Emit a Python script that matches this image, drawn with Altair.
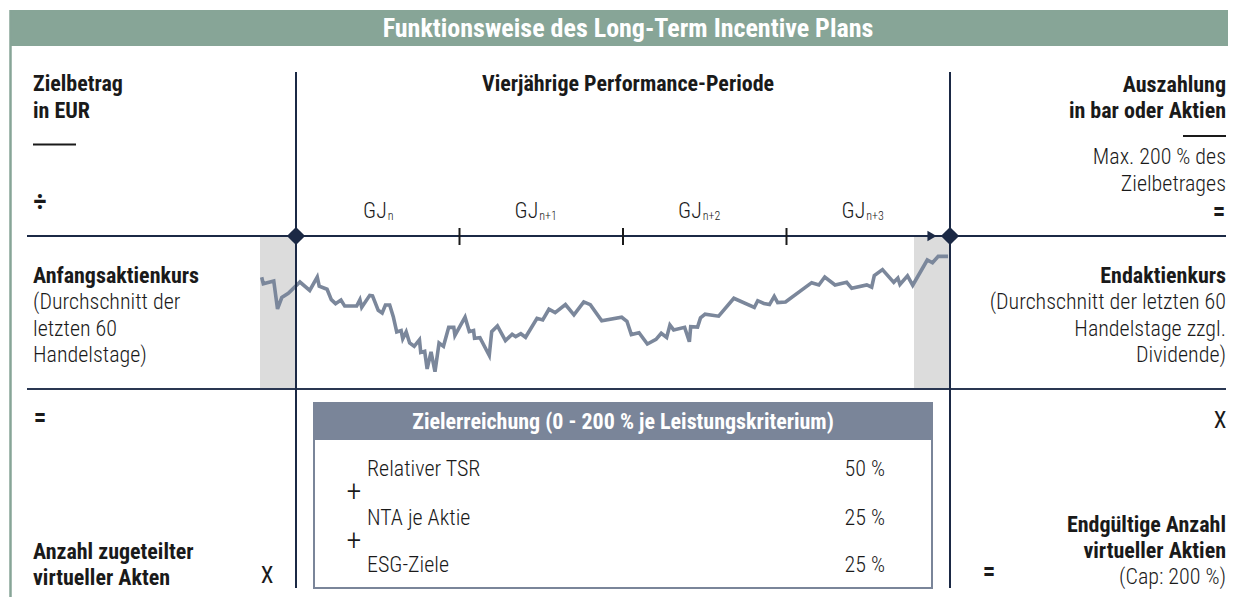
import altair as alt
import pandas as pd

# ---------------- data ----------------
# Zeit in Jahren relativ zum Beginn der Performance-Periode, Kurs als Index
jahre = [-0.210, -0.200, -0.136, -0.113, -0.087, -0.047, 0.024, 0.084, 0.130, 0.142,
         0.190, 0.216, 0.242, 0.275, 0.298, 0.371, 0.391, 0.402, 0.451, 0.468,
         0.503, 0.527, 0.547, 0.573, 0.595, 0.616, 0.643, 0.653, 0.674, 0.695,
         0.723, 0.755, 0.763, 0.787, 0.802, 0.826, 0.850, 0.875, 0.902, 0.934,
         0.965, 0.972, 1.034, 1.060, 1.086, 1.092, 1.125, 1.182, 1.197, 1.232,
         1.281, 1.322, 1.344, 1.375, 1.404, 1.474, 1.509, 1.547, 1.585, 1.648,
         1.700, 1.760, 1.800, 1.870, 1.992, 2.024, 2.051, 2.098, 2.149, 2.202,
         2.234, 2.267, 2.287, 2.310, 2.377, 2.406, 2.414, 2.456, 2.474, 2.502,
         2.585, 2.678, 2.803, 2.824, 2.862, 2.896, 2.925, 2.946, 2.994, 3.154,
         3.198, 3.234, 3.297, 3.368, 3.399, 3.491, 3.521, 3.537, 3.587, 3.656,
         3.681, 3.694, 3.740, 3.772, 3.861, 3.893, 3.928, 3.988]
kurs = [73.0, 68.8, 70.6, 52.3, 59.8, 62.5, 69.9, 64.4, 73.2, 67.2,
        65.2, 58.4, 55.8, 58.2, 54.2, 54.2, 58.4, 53.4, 61.2, 60.9,
        51.4, 49.7, 54.9, 54.9, 47.3, 37.3, 38.2, 32.8, 37.3, 30.1,
        27.9, 32.2, 23.9, 24.6, 13.1, 24.2, 11.3, 30.1, 27.9, 40.3,
        40.3, 35.0, 46.9, 37.5, 38.2, 33.1, 33.5, 21.9, 37.5, 41.2,
        31.6, 35.8, 34.2, 36.1, 33.8, 46.2, 45.1, 52.1, 49.9, 55.2,
        48.4, 56.9, 55.1, 44.6, 46.9, 44.3, 35.6, 36.8, 29.4, 32.4,
        36.4, 33.7, 41.8, 38.6, 40.3, 30.9, 40.7, 40.5, 46.5, 48.9,
        47.6, 59.3, 53.3, 57.7, 55.9, 55.2, 60.5, 56.5, 56.9, 69.5,
        68.0, 73.2, 68.0, 69.7, 65.8, 68.0, 66.5, 74.1, 78.0, 69.7,
        72.5, 68.4, 74.0, 67.8, 84.3, 82.5, 86.7, 86.7]

perioden_mitte = [0.5, 1.5, 2.5, 3.5]
perioden_index = ["n", "n+1", "n+2", "n+3"]
jahresgrenzen = [1, 2, 3]
periode_start_ende = [0, 4]
fenster_von = [-0.22, 3.78]   # 60 Handelstage Durchschnitt
fenster_bis = [0.0, 4.0]
kriterien = ["Relativer TSR", "NTA je Aktie", "ESG-Ziele"]
gewichte = ["50 %", "25 %", "25 %"]

# ---------------- styling / layout ----------------
OX, OY = 8, 8
W, H = 1220, 589
FONT = "Roboto Condensed, Roboto"
NAVY = "#1b2945"
GREEN = "#87a597"
SLATE = "#7a8599"
LINEC = "#7b879b"
SHADE = "#dcdcdc"
TXT = "#1a1a1a"
BOLD = 22
LIGHT = 22

ONE = pd.DataFrame({"_": [0]})
xs = alt.Scale(domain=[0, 4], range=[296 - OX, 950 - OX], nice=False, zero=False)
ys = alt.Scale(domain=[0, 100], range=[389 - OY, 236 - OY], nice=False, zero=False)


def txt(s, x, y, size=BOLD, weight=700, align="left", baseline="alphabetic", color=TXT):
    return alt.Chart(ONE).mark_text(
        text=s, font=FONT, fontSize=size, fontWeight=weight, align=align,
        baseline=baseline, color=color
    ).encode(x=alt.value(x - OX), y=alt.value(y - OY))


def hrule(x1, x2, y, color=NAVY, width=2):
    return alt.Chart(ONE).mark_rule(color=color, strokeWidth=width).encode(
        x=alt.value(x1 - OX), x2=alt.value(x2 - OX), y=alt.value(y - OY))


def box(x1, x2, y1, y2, fill, stroke=None, sw=0):
    kw = dict(fill=fill)
    if stroke:
        kw.update(stroke=stroke, strokeWidth=sw)
    return alt.Chart(ONE).mark_rect(**kw).encode(
        x=alt.value(x1 - OX), x2=alt.value(x2 - OX),
        y=alt.value(y1 - OY), y2=alt.value(y2 - OY))


layers = []

# frame and header
layers.append(box(10, 1240, 10, 46, GREEN))
layers.append(alt.Chart(ONE).mark_rule(color=GREEN, strokeWidth=2.5).encode(
    x=alt.value(10.5 - OX), y=alt.value(10 - OY), y2=alt.value(610 - OY)))
layers.append(txt("Funktionsweise des Long-Term Incentive Plans", 628, 37, size=26,
                  color="white", align="center"))

# shaded averaging windows
fenster_df = pd.DataFrame({"von": fenster_von, "bis": fenster_bis})
layers.append(alt.Chart(fenster_df).mark_rect(color=SHADE).encode(
    x=alt.X("von:Q", scale=xs, axis=None), x2="bis:Q",
    y=alt.value(236 - OY), y2=alt.value(389 - OY)))

# stock price line
kurs_df = pd.DataFrame({"jahr": jahre, "kurs": kurs})
layers.append(alt.Chart(kurs_df).mark_line(color=LINEC, strokeWidth=3.6).encode(
    x=alt.X("jahr:Q", scale=xs, axis=None),
    y=alt.Y("kurs:Q", scale=ys, axis=None)))

# horizontal structure lines
layers.append(hrule(27, 1226, 236))
layers.append(hrule(27, 1226, 389, color="#2a3752"))

# period start/end verticals
pe_df = pd.DataFrame({"t": periode_start_ende})
layers.append(alt.Chart(pe_df).mark_rule(color=NAVY, strokeWidth=2).encode(
    x=alt.X("t:Q", scale=xs, axis=None),
    y=alt.value(72 - OY), y2=alt.value(588 - OY)))

# year ticks
g_df = pd.DataFrame({"t": jahresgrenzen})
layers.append(alt.Chart(g_df).mark_rule(color=TXT, strokeWidth=2).encode(
    x=alt.X("t:Q", scale=xs, axis=None),
    y=alt.value(228 - OY), y2=alt.value(245 - OY)))

# arrow head and diamonds
layers.append(alt.Chart(ONE).mark_point(shape="triangle-right", filled=True, size=110,
                                        color=NAVY, opacity=1).encode(
    x=alt.value(932 - OX), y=alt.value(236 - OY)))
layers.append(alt.Chart(pe_df).mark_point(shape="diamond", filled=True, size=330,
                                          color=NAVY, opacity=1).encode(
    x=alt.X("t:Q", scale=xs, axis=None), y=alt.value(236 - OY)))

# GJ labels with subscripts
gj_df = pd.DataFrame({"t": perioden_mitte, "sub": perioden_index})
layers.append(alt.Chart(gj_df).transform_calculate(
    xg="datum.t + (9 - (length(datum.sub) - 1) * 6) / 163.5",
).mark_text(text="GJ", font=FONT, fontSize=22, fontWeight=300, align="right",
            baseline="alphabetic", color=TXT).encode(
    x=alt.X("xg:Q", scale=xs, axis=None), y=alt.value(218 - OY)))
layers.append(alt.Chart(gj_df).transform_calculate(
    xsb="datum.t + (10 - (length(datum.sub) - 1) * 6) / 163.5",
).mark_text(font=FONT, fontSize=12, fontWeight=300, align="left",
            baseline="alphabetic", color=TXT).encode(
    x=alt.X("xsb:Q", scale=xs, axis=None), y=alt.value(220 - OY), text="sub:N"))

# left column
layers += [
    txt("Zielbetrag", 33, 91),
    txt("in EUR", 33, 118),
    hrule(33, 76, 144.5, color=TXT),
    txt("÷", 40, 203, size=27, align="center", baseline="middle"),
    txt("Anfangsaktienkurs", 33, 283),
    txt("(Durchschnitt der", 33, 309, size=LIGHT, weight=300),
    txt("letzten 60", 33, 336, size=LIGHT, weight=300),
    txt("Handelstage)", 33, 362, size=LIGHT, weight=300),
    txt("=", 40, 418, size=25, align="center", baseline="middle"),
    txt("Anzahl zugeteilter", 33, 559),
    txt("virtueller Akten", 33, 585),
    txt("X", 267, 583, size=23, weight=400, align="center"),
]

# centre heading
layers.append(txt("Vierjährige Performance-Periode", 628, 91, align="center"))

# right column
layers += [
    txt("Auszahlung", 1226, 92, align="right"),
    txt("in bar oder Aktien", 1226, 118, align="right"),
    hrule(1183, 1226, 136, color=TXT),
    txt("Max. 200 % des", 1226, 164, size=LIGHT, weight=300, align="right"),
    txt("Zielbetrages", 1226, 191, size=LIGHT, weight=300, align="right"),
    txt("=", 1219, 212, size=25, align="center", baseline="middle"),
    txt("Endaktienkurs", 1226, 283, align="right"),
    txt("(Durchschnitt der letzten 60", 1226, 309, size=LIGHT, weight=300, align="right"),
    txt("Handelstage zzgl.", 1226, 336, size=LIGHT, weight=300, align="right"),
    txt("Dividende)", 1226, 362, size=LIGHT, weight=300, align="right"),
    txt("X", 1220, 428, size=23, weight=400, align="center"),
    txt("Endgültige Anzahl", 1226, 532, align="right"),
    txt("virtueller Aktien", 1226, 558, align="right"),
    txt("(Cap: 200 %)", 1226, 584, size=LIGHT, weight=300, align="right"),
    txt("=", 989, 572, size=25, align="center", baseline="middle"),
]

# target achievement box
layers.append(box(314, 932, 403, 588, "white", stroke=SLATE, sw=2))
layers.append(box(314, 932, 403, 440, SLATE))
layers.append(txt("Zielerreichung (0 - 200 % je Leistungskriterium)", 623, 429,
                  size=22, color="white", align="center"))
row_y = [476, 525, 572]
for name, w, yb in zip(kriterien, gewichte, row_y):
    layers.append(txt(name, 367, yb, size=LIGHT, weight=300))
    layers.append(txt(w, 885, yb, size=LIGHT, weight=300, align="right"))
for yp in [492, 541]:
    layers.append(txt("+", 354, yp, size=30, weight=300, align="center", baseline="middle"))

chart = alt.layer(*layers).properties(
    width=W, height=H, padding=0, autosize=alt.AutoSizeParams(type="none")
).configure_view(stroke=None)

chart.save("out.html", embed_options={"renderer": "svg", "actions": False})
